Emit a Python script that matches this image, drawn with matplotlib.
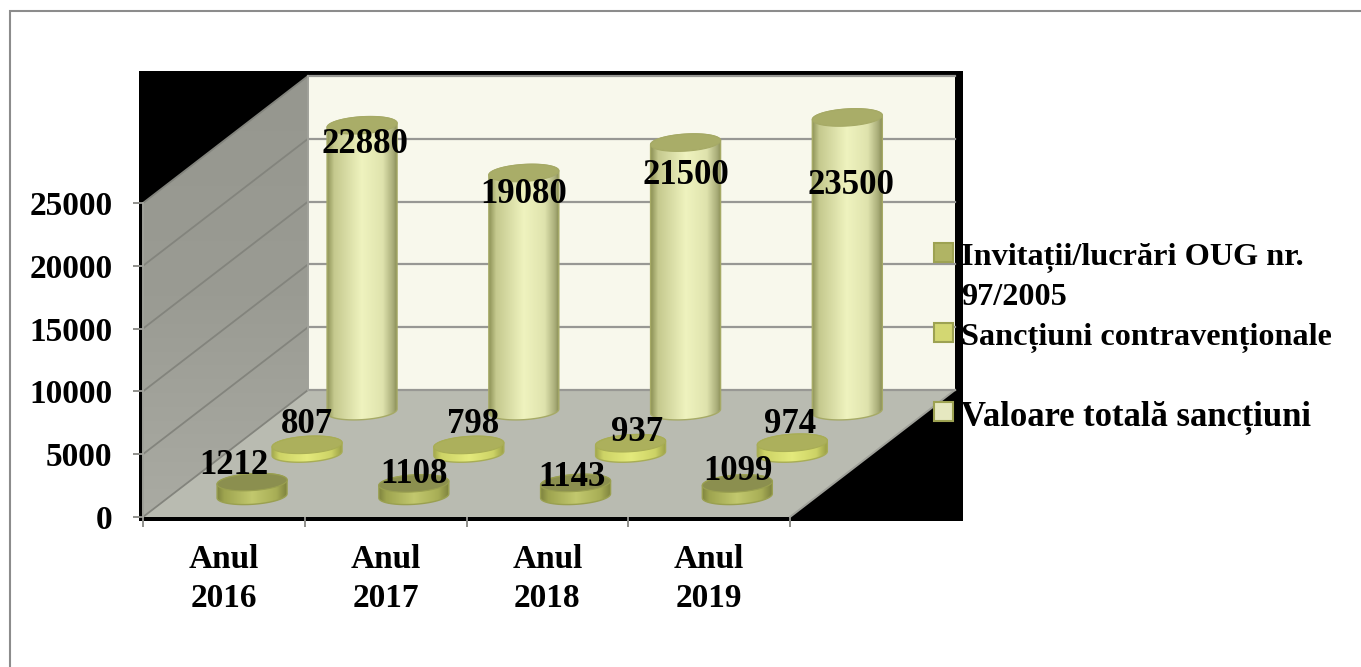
import numpy as np
import matplotlib
matplotlib.use("Agg")
import matplotlib.pyplot as plt
from matplotlib.patches import Polygon, Rectangle
from matplotlib.transforms import Affine2D, IdentityTransform
from matplotlib.colors import LinearSegmentedColormap

categories = ["Anul\n2016", "Anul\n2017", "Anul\n2018", "Anul\n2019"]
series_names = ["Invitații/lucrări OUG nr.\n97/2005", "Sancțiuni contravenționale", "Valoare totală sancțiuni"]
invitatii = [1212, 1108, 1143, 1099]
sanctiuni = [807, 798, 937, 974]
valoare = [22880, 19080, 21500, 23500]
y_ticks = [0, 5000, 10000, 15000, 20000, 25000]

W, H = 1361, 667
FONT = "Liberation Serif"
fig = plt.figure(figsize=(W / 100, H / 100), dpi=100, facecolor="white")

# front plane of the 3-D box, in pixels
L, R, Y0, Y1 = 143, 790, 517, 203
ax = fig.add_axes([L / W, 1 - Y0 / H, (R - L) / W, (Y0 - Y1) / H])
ax.set_xlim(0, 4)
ax.set_ylim(0, 25000)
ax.patch.set_visible(False)
for s in ax.spines.values():
    s.set_visible(False)
ax.set_autoscale_on(False)

DX, DY = 165, 127
IDENT = IdentityTransform()


def depth(frac):
    return ax.transData + Affine2D().translate(DX * frac, DY * frac)


# figure frame (only the left and top edges fall inside the picture) and black backdrop
fig.add_artist(Rectangle((10 / W, -0.1), 1.2, 1.1 - 11 / H, transform=fig.transFigure,
                         fc="white", ec="#8c8c8c", lw=1.5, zorder=-5))
fig.add_artist(Rectangle((139 / W, 1 - 521 / H), (963 - 139) / W, (521 - 71) / H, transform=fig.transFigure,
                         fc="black", ec="none", zorder=-4))

# walls
back = depth(1)
ax.add_patch(Polygon([(0, 0), (4, 0), (4, 25000), (0, 25000)], transform=back, fc="#f8f8ec", ec="none",
                     clip_on=False, zorder=1))
GRID = "#989894"
WALL_GRID = "#83847d"
left_pts = np.array([(0, 0), (0, 25000)])
wall_px = np.vstack([ax.transData.transform(left_pts), back.transform(left_pts)[::-1]])
wall_im = ax.imshow(np.linspace(0, 1, 64).reshape(-1, 1),
                    cmap=LinearSegmentedColormap.from_list("w", ["#96978f", "#9a9b93", "#aaaba3"]),
                    extent=(wall_px[:, 0].min(), wall_px[:, 0].max(), wall_px[:, 1].min(), wall_px[:, 1].max()),
                    transform=IDENT, aspect="auto", zorder=1)
wall_im.set_clip_box(fig.bbox)
wall_im.set_clip_path(Polygon(wall_px, transform=IDENT))
floor_px = np.vstack([ax.transData.transform([(0, 0), (4, 0)]), back.transform([(4, 0), (0, 0)])])
ax.add_patch(Polygon(floor_px, transform=IDENT, fc="#b9bbb1", ec="none", clip_on=False, zorder=1))

for v in y_ticks:
    a = ax.transData.transform((0, v))
    b = back.transform((0, v))
    c = back.transform((4, v))
    ax.plot([a[0], b[0]], [a[1], b[1]], transform=IDENT, color=WALL_GRID, lw=1.3, clip_on=False, zorder=2)
    ax.plot([b[0], c[0]], [b[1], c[1]], transform=IDENT, color=GRID, lw=1.6, clip_on=False, zorder=2)
for p, q in [(ax.transData.transform((4, 0)), back.transform((4, 0))),
             (ax.transData.transform((0, 0)), ax.transData.transform((0, 25000))),
             (back.transform((0, 0)), back.transform((0, 25000)))]:
    ax.plot([p[0], q[0]], [p[1], q[1]], transform=IDENT, color="#a0a19a", lw=1.4, clip_on=False, zorder=2)

HALF_W, HALF_H, TILT = 35, 8.5, 0.06


def ellipse(cx, cy, t):
    return np.column_stack([cx + HALF_W * np.cos(t), cy + HALF_H * np.sin(t) + TILT * HALF_W * np.cos(t)])


def cylinder(cat, value, frac, side, top, edge, z):
    T = depth(frac)
    cx, y_base = T.transform((cat + 0.5, 0))
    _, y_top = T.transform((cat + 0.5, value))
    cx += 0.7
    y_top -= 1.5
    lower = ellipse(cx, y_base, np.linspace(np.pi, 2 * np.pi, 50))
    upper = ellipse(cx, y_top, np.linspace(0, np.pi, 50))
    body = np.vstack([lower, upper])
    cm = LinearSegmentedColormap.from_list("c", side)
    im = ax.imshow(np.linspace(0, 1, 128).reshape(1, -1), cmap=cm,
                   extent=(cx - HALF_W, cx + HALF_W, y_base - HALF_H - 4, y_top + HALF_H + 4),
                   transform=IDENT, aspect="auto", zorder=z)
    im.set_clip_box(fig.bbox)
    im.set_clip_path(Polygon(body, transform=IDENT))
    ax.add_patch(Polygon(body, transform=IDENT, fc="none", ec=edge, lw=1.0, clip_on=False, zorder=z + 0.1))
    ax.add_patch(Polygon(ellipse(cx, y_top, np.linspace(0, 2 * np.pi, 100)), transform=IDENT,
                         fc=top, ec=edge, lw=0.8, clip_on=False, zorder=z + 0.2))
    return cx, y_top


styles = [
    dict(frac=0.5 / 3, z=7, side=[(0, "#808540"), (0.1, "#9ea44f"), (0.5, "#c2c86e"), (0.85, "#a8ae56"), (1, "#7f843f")],
         top="#8b8f4f", edge="#9aa050"),
    dict(frac=1.5 / 3, z=5, side=[(0, "#a5aa4e"), (0.1, "#cdd366"), (0.5, "#e4ea7c"), (0.85, "#cdd366"), (1, "#9ca148")],
         top="#acb05c", edge="#a8ad55"),
    dict(frac=2.5 / 3, z=3, side=[(0, "#8f9458"), (0.1, "#c5c98e"), (0.5, "#eff3bf"), (0.8, "#dfe3ad"), (0.95, "#a8ac78"), (1, "#8b9058")],
         top="#a9ad68", edge="#a6aa66"),
]
all_series = [invitatii, sanctiuni, valoare]
# hand-placed data-label shifts of the original (pixels right, pixels down from the cylinder's top)
label_shift = [
    [(-18, -17), (0, -9), (-4, -5), (1, -12)],
    [(0, -20), (4, -20), (6, -11), (-2, -18)],
    [(3, 19), (0, 21), (0, 33), (4, 68)],
]

tops = []
for values, st in zip(all_series, styles):
    tops.append([cylinder(i, v, st["frac"], st["side"], st["top"], st["edge"], st["z"]) for i, v in enumerate(values)])

for row, values, shifts in zip(tops, all_series, label_shift):
    for (cx, yt), v, (sx, sy) in zip(row, values, shifts):
        ax.text(cx + sx, yt - sy, str(v), family=FONT, weight="bold", color="black", ha="center", va="center",
                transform=IDENT, fontsize=25, zorder=10, clip_on=False)

# axis ticks and labels
ax.set_yticks(y_ticks)
ax.set_yticklabels([str(v) for v in y_ticks], family=FONT, weight="bold", fontsize=24)
ax.set_xticks([0, 1, 2, 3, 4])
ax.set_xticklabels([])
ax.set_xticks([0.5, 1.5, 2.5, 3.5], minor=True)
ax.set_xticklabels(categories, minor=True, family=FONT, weight="bold", fontsize=24, linespacing=1.32)
ax.tick_params(axis="both", which="major", color="#8f8f8b", width=1.4, length=7)
ax.tick_params(axis="y", pad=15)
ax.tick_params(axis="x", which="minor", length=0, pad=19.5)

# legend
legend_y = [252.5, 332, 411]
legend_base = [265, 345, 425]
legend_size = [23.2, 23.2, 24.9]
LINE_STEP = 40
for name, y, base, col, size in zip(series_names, legend_y, legend_base, ["#b0b464", "#d3d772", "#e6e8c0"], legend_size):
    fig.add_artist(Rectangle((934 / W, 1 - (y + 9.5) / H), 19 / W, 19 / H, transform=fig.transFigure,
                             fc=col, ec="#9da252", lw=1.5, zorder=12))
    for k, line in enumerate(name.split("\n")):
        fig.text(961 / W, 1 - (base + k * LINE_STEP) / H, line, family=FONT, weight="bold", fontsize=size,
                 ha="left", va="baseline", zorder=12)

fig.savefig("out.png", dpi=100)
